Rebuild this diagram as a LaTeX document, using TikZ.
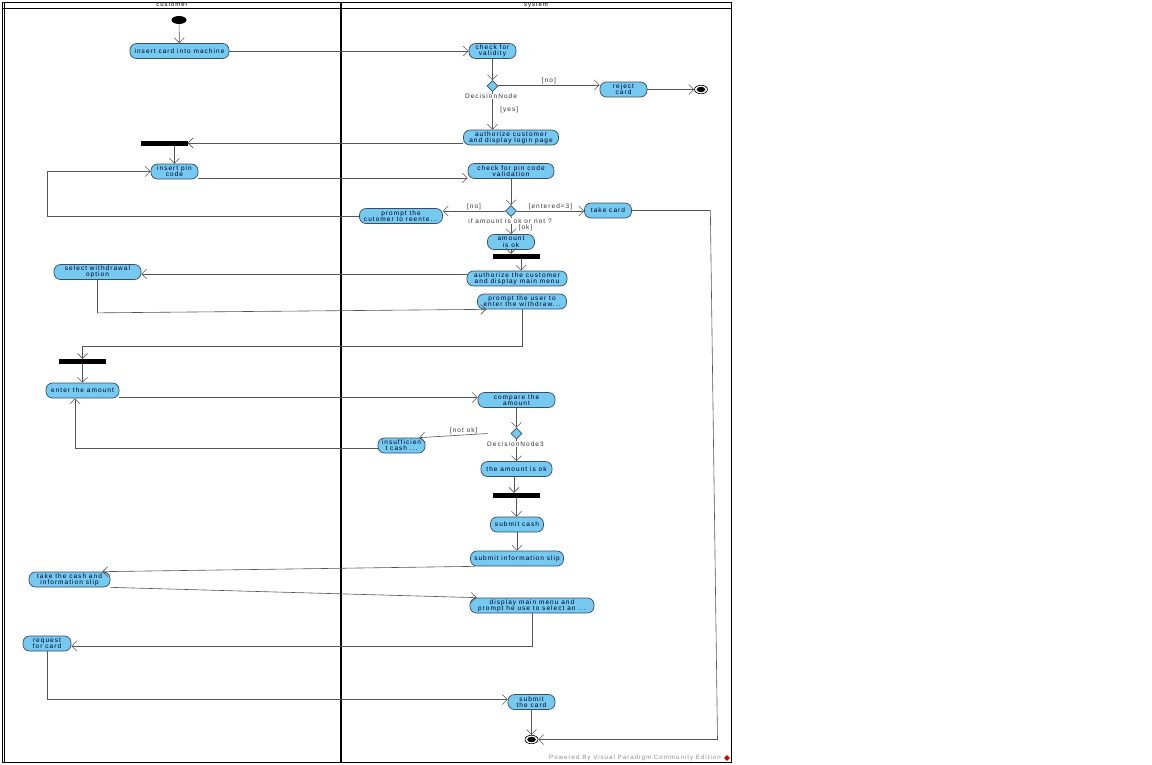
\documentclass[tikz,border=0pt]{standalone}
\usepackage{fontspec}
\setmainfont{Liberation Sans}[LetterSpace=16]
\usetikzlibrary{arrows.meta,shapes.geometric}
\definecolor{actfill}{RGB}{118,201,240}
\definecolor{actline}{RGB}{58,78,98}
\definecolor{flowline}{RGB}{85,85,85}
\begin{document}
\begin{tikzpicture}[x=1pt,y=-1pt,
  font=\fontsize{6.5}{6.3}\selectfont,
  act/.style={draw=actline,fill=actfill,rounded corners=6.5pt,line width=0.7pt,minimum height=15pt,inner xsep=2pt,inner ysep=0.5pt,align=center,text=black!85!blue},
  forkbar/.style={fill=black,minimum width=47pt,minimum height=5pt,inner sep=0pt},
  decision/.style={diamond,draw=actline,fill=actfill,line width=0.6pt,minimum width=11pt,minimum height=11pt,inner sep=0pt},
  initnode/.style={ellipse,fill=black,minimum width=15pt,minimum height=8pt,inner sep=0pt},
  finalnode/.style={ellipse,draw=black,line width=0.6pt,fill=white,minimum width=13pt,minimum height=8.5pt,inner sep=0pt,
    path picture={\fill[black] (path picture bounding box.center) ellipse (4.3pt and 2.7pt);}},
  flow/.style={draw=flowline,line width=0.6pt,-{Straight Barb[length=5pt,width=10pt]}},
  guard/.style={text=black!80,inner sep=0.5pt},
  dname/.style={text=black!80,fill=white,inner sep=0.5pt}
]
\useasboundingbox (0,0) rectangle (1152,764);
\draw[line width=0.9pt] (2,2) rectangle (731,762);
\draw[line width=0.6pt] (4.5,2) -- (4.5,762);
\draw[line width=0.6pt] (2,8) -- (731,8);
\draw[line width=2pt] (341,2) -- (341,762);
\node[font=\fontsize{6}{6}\selectfont,inner sep=0pt] (hcust) at (172,5) {customer};
\node[font=\fontsize{6}{6}\selectfont,inner sep=0pt] (hsys) at (536,5) {system};

\node[initnode] (start) at (179,20) {};
\node[act,minimum width=99pt] (ins_card) at (179.5,51) {insert card into machine};
\node[act,minimum width=47pt] (chk_valid) at (492.5,51) {check for\\validity};
\node[decision] (dec1) at (492.5,86) {};
\node[act,minimum width=47pt] (reject) at (623.5,89.5) {reject\\card};
\node[finalnode] (final1) at (701,89.5) {};
\node[act,minimum width=95pt] (auth) at (511,137.5) {authorize customer\\and display login page};
\node[forkbar] (fork1) at (164,143) {};
\node[act,minimum width=47pt] (ins_pin) at (174.5,171.5) {insert pin\\code};
\node[act,minimum width=86pt] (chk_pin) at (511,171) {check for pin code\\validation};
\node[decision] (dec2) at (511,211) {};
\node[act,minimum width=83pt] (prompt_re) at (401,216) {prompt the\\cutomer to reente...};
\node[act,minimum width=47pt] (take_card) at (608,210.5) {take card};
\node[act,minimum width=47pt] (amt_ok) at (511,242) {amount\\is ok};
\node[forkbar] (fork2) at (516.5,256.5) {};
\node[act,minimum width=100pt] (auth_menu) at (517,278.5) {authorize the customer\\and display main menu};
\node[act,minimum width=89pt] (prompt_wd) at (522,301.5) {prompt the user to\\enter the withdraw...};
\node[act,minimum width=87pt] (sel_wd) at (97.5,272) {select withdrawal\\option};
\node[forkbar] (fork3) at (82.5,361.5) {};
\node[act,minimum width=73pt] (enter_amt) at (82.5,390.5) {enter the amount};
\node[act,minimum width=77pt] (compare) at (516.5,400) {compare the\\amount};
\node[decision] (dec3) at (516.5,433.5) {};
\node[act,minimum width=47pt] (insuff) at (401.5,445.5) {insufficien\\t cash ...};
\node[act,minimum width=71pt] (amt_ok2) at (516.5,469) {the amount is ok};
\node[forkbar] (fork4) at (516.5,495.5) {};
\node[act,minimum width=53pt] (sub_cash) at (517,524.5) {submit cash};
\node[act,minimum width=93pt] (sub_slip) at (517,558.5) {submit information slip};
\node[act,minimum width=81pt] (take_cash) at (69.5,579.5) {take the cash and\\information slip};
\node[act,minimum width=124pt] (disp_menu) at (532,605.5) {display main menu and\\prompt he use to select an ...};
\node[act,minimum width=48pt] (req_card) at (47,643.5) {request\\for card};
\node[act,minimum width=47pt] (sub_card) at (531.5,702) {submit\\the card};
\node[finalnode] (final2) at (531.5,739.5) {};
\coordinate (bend1) at (717.5,739.5);

\draw[flow] (start) -- (ins_card);
\draw[flow] (ins_card) -- (chk_valid);
\draw[flow] (chk_valid) -- (dec1);
\draw[flow] ([yshift=1pt]dec1.east) -- ([yshift=1pt]dec1.east -| reject.west) node[guard,midway,above] {[no]};
\draw[flow] (reject) -- (final1);
\draw[flow] (dec1) -- (dec1 |- auth.north) node[guard,pos=0.48,right=7pt] {[yes]};
\node[dname] (dn1) at (491,96.5) {DecisionNode};
\draw[flow] (fork1.east -| auth.west) -- (fork1.east);
\draw[flow] (fork1.south -| ins_pin.north) -- (ins_pin.north);
\draw[flow] ([yshift=-6.5pt]ins_pin.east) -- ([yshift=-6.5pt]ins_pin.east -| chk_pin.west);
\draw[flow] (chk_pin) -- (dec2);
\draw[flow] (dec2.west) -- (dec2.west -| prompt_re.east) node[guard,midway,above] {[no]};
\draw[flow] (dec2.east) -- (dec2.east -| take_card.west) node[guard,midway,above] {[entered=3]};
\draw[flow] (prompt_re.west) -- ++(-312,0) |- (ins_pin.west);
\draw[flow] (take_card.east) -- ++(78.5,0) -- (bend1) -- (final2);
\draw[flow] (dec2) -- (amt_ok);
\node[dname] (dn2) at (510,221) {if amount is ok or not ?};
\path (dec2) -- (amt_ok) node[guard,pos=0.62,right=7pt] {[ok]};
\draw[flow] (amt_ok) -- (amt_ok |- fork2.north);
\draw[flow] ([xshift=4.5pt]fork2.south) -- ([xshift=4.5pt]fork2.south |- auth_menu.north);
\draw[flow] ([yshift=-2pt]sel_wd.east -| auth_menu.west) -- ([yshift=-2pt]sel_wd.east);
\draw[flow] (sel_wd.south) -- ++(0,33) -- ([xshift=9pt]prompt_wd.south west);
\draw[flow] (prompt_wd.south) -- ++(0,37) -| (fork3.north);
\draw[flow] (fork3) -- (enter_amt);
\draw[flow] ([yshift=-7pt]enter_amt.east) -- ([yshift=-7pt]enter_amt.east -| compare.west);
\draw[flow] (compare) -- (dec3);
\draw[flow] ([xshift=-23pt]dec3.west) -- ([xshift=-6pt]insuff.north east) node[guard,pos=0.35,above] {[not ok]};
\draw[flow] (dec3) -- (amt_ok2);
\node[dname] (dn3) at (515.5,444) {DecisionNode3};
\draw[flow] ([yshift=-2.5pt]insuff.west) -| ([xshift=-7.5pt]enter_amt.south);
\draw[flow] ([xshift=-2.5pt]amt_ok2.south) -- ([xshift=-2.5pt]amt_ok2.south |- fork4.north);
\draw[flow] (fork4.south) -- (fork4.south |- sub_cash.north);
\draw[flow] (sub_cash) -- (sub_slip);
\draw[flow] ([xshift=5pt]sub_slip.south west) -- ([xshift=-8pt]take_cash.north east);
\draw[flow] (take_cash.south east) -- ([xshift=7pt]disp_menu.north west);
\draw[flow] (disp_menu.south) |- ([yshift=-2.5pt]req_card.east);
\draw[flow] (req_card.south) |- ([yshift=2.5pt]sub_card.west);
\draw[flow] (sub_card) -- (final2);

\node[text=black!45,font=\fontsize{6.2}{7}\selectfont,inner sep=0pt] (vp) at (635,758) {Powered By Visual Paradigm Community Edition};
\node[diamond,fill=red!80!black,minimum width=6pt,minimum height=6pt,inner sep=0pt] (vplogo) at (727,758) {};
\end{tikzpicture}
\end{document}
